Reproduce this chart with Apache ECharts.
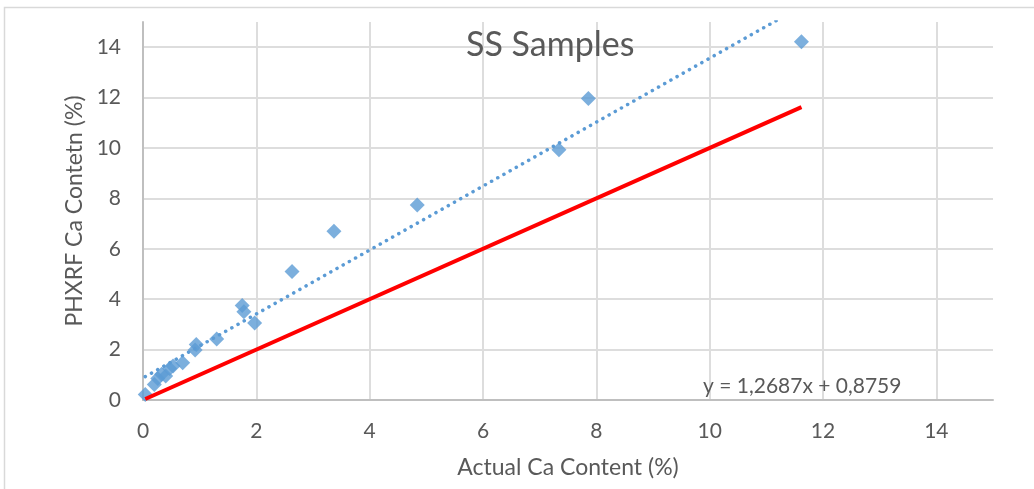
<!DOCTYPE html>
<html>
<head>
<meta charset="utf-8">
<script src="https://cdn.jsdelivr.net/npm/echarts@6/dist/echarts.min.js"></script>
<style>
  html, body { margin: 0; padding: 0; background: #fff; }
  #chart { width: 1034px; height: 489px; }
</style>
</head>
<body>
<div id="chart"></div>
<script>
// Measured Ca content: reference method (x) vs. portable XRF reading (y), in %
const actualCa = [0.04, 0.20, 0.26, 0.33, 0.40, 0.47, 0.53, 0.70, 0.92, 0.94, 1.30, 1.75, 1.78, 1.97, 2.63, 3.37, 4.84, 7.34, 7.86, 11.62];
const phxrfCa  = [0.22, 0.62, 0.85, 1.02, 0.95, 1.25, 1.35, 1.48, 1.98, 2.20, 2.42, 3.75, 3.50, 3.06, 5.10, 6.70, 7.74, 9.93, 11.96, 14.22];

// Linear fit reported on the chart
const fitSlope = 1.2687;
const fitIntercept = 0.8759;
const fitLabel = 'y = 1,2687x + 0,8759';

const chartTitle = 'SS Samples';
const xAxisName = 'Actual Ca Content (%)';
const yAxisName = 'PHXRF Ca Contetn (%)';

const points = actualCa.map((x, i) => [x, phxrfCa[i]]);
const xMin = Math.min(...actualCa);
const xMax = Math.max(...actualCa);
const fitLine = [xMin, xMax].map(x => [x, fitSlope * x + fitIntercept]);
const identityLine = [xMin, xMax].map(x => [x, x]);

const textColor = '#595959';
const font = 'Lato, "Open Sans", sans-serif';

const chart = echarts.init(document.getElementById('chart'), null, { renderer: 'canvas' });

const axisCommon = {
  type: 'value',
  min: 0,
  max: 15,
  interval: 2,
  nameLocation: 'middle',
  nameTextStyle: { color: textColor, fontSize: 23, fontFamily: font },
  axisLine: { show: true, onZero: false, lineStyle: { color: '#BFBFBF', width: 2 } },
  axisTick: { show: false },
  axisLabel: { color: textColor, fontSize: 21, fontFamily: font, showMaxLabel: false },
  splitLine: { show: true, showMaxLine: false, lineStyle: { color: '#DDDDDD', width: 2 } }
};

chart.setOption({
  animation: false,
  backgroundColor: '#ffffff',
  title: {
    text: chartTitle,
    left: 461,
    top: 23,
    textStyle: { color: textColor, fontSize: 34, fontWeight: 'normal', fontFamily: font }
  },
  grid: { left: 143, top: 22, right: 41, bottom: 89, containLabel: false },
  xAxis: Object.assign({}, axisCommon, {
    name: xAxisName,
    nameGap: 56,
    axisLabel: Object.assign({}, axisCommon.axisLabel, { margin: 21 })
  }),
  yAxis: Object.assign({}, axisCommon, {
    name: yAxisName,
    nameGap: 56,
    axisLabel: Object.assign({}, axisCommon.axisLabel, { margin: 22 })
  }),
  graphic: [
    {
      type: 'rect',
      shape: { x: 4.5, y: 7.5, width: 1100, height: 600 },
      style: { fill: 'none', stroke: '#D9D9D9', lineWidth: 1.5 },
      silent: true,
      z: -10
    },
    {
      type: 'text',
      left: 703,
      top: 376,
      style: { text: fitLabel, fill: textColor, fontSize: 21, fontFamily: font },
      z: 100
    }
  ],
  series: [
    {
      name: 'Samples',
      type: 'scatter',
      data: points,
      symbol: 'diamond',
      symbolSize: 15,
      itemStyle: { color: '#5B9BD5' },
      z: 2
    },
    {
      name: 'Linear fit',
      type: 'line',
      data: fitLine,
      showSymbol: false,
      symbol: 'none',
      clip: true,
      lineStyle: { color: '#5B9BD5', width: 3.5, type: [0.1, 7], cap: 'round' },
      z: 3
    },
    {
      name: '1:1',
      type: 'line',
      data: identityLine,
      showSymbol: false,
      symbol: 'none',
      clip: true,
      lineStyle: { color: '#FF0000', width: 4 },
      z: 4
    }
  ]
});
</script>
</body>
</html>
